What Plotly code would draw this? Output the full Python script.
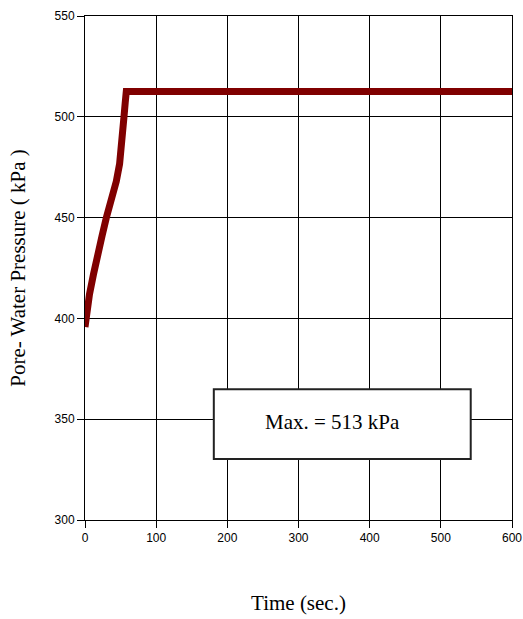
import plotly.graph_objects as go

time_s = [0, 3, 6.3, 12, 17, 24, 30, 39, 44, 48.6, 52, 54.7, 56.5, 58, 100, 200, 300, 400, 500, 600]
pwp_kpa = [395.7, 404, 412, 422, 432, 441, 450, 460, 468, 476.6, 486, 499.7, 507, 512.5, 512.5, 512.5, 512.5, 512.5, 512.5, 512.5]

x_ticks = [0, 100, 200, 300, 400, 500, 600]
y_ticks = [300, 350, 400, 450, 500, 550]
max_label = "Max. = 513 kPa"

fig = go.Figure()
fig.add_trace(go.Scatter(x=time_s, y=pwp_kpa, mode="lines",
                         line=dict(color="#800000", width=7), showlegend=False))

fig.add_shape(type="rect", x0=181, x1=542, y0=330.2, y1=364.9, xref="x", yref="y",
              line=dict(color="#222222", width=2), fillcolor="white", layer="above")
fig.add_annotation(x=348, y=348.5, xref="x", yref="y", text=max_label, showarrow=False,
                   font=dict(family="Liberation Serif", size=21, color="black"))

axis_common = dict(showline=True, linecolor="black", linewidth=1, mirror=True,
                   showgrid=True, gridcolor="black", gridwidth=1, zeroline=False,
                   ticks="outside", tickcolor="black", ticklen=7, tickwidth=1, automargin=False,
                   ticklabeloverflow="allow",
                   tickfont=dict(family="Liberation Sans Narrow, Liberation Sans", size=12, color="black"))

fig.update_xaxes(range=[0, 600], tickvals=x_ticks,
                 title=dict(text="Time (sec.)", font=dict(family="Liberation Serif", size=21, color="black"),
                            standoff=50),
                 **axis_common)
fig.update_yaxes(range=[300, 550], tickvals=y_ticks,
                 title=dict(text="Pore- Water Pressure ( kPa )",
                            font=dict(family="Liberation Serif", size=21, color="black"), standoff=23),
                 **axis_common)

fig.update_layout(width=523, height=619, margin=dict(l=85, r=11, t=16, b=99),
                  plot_bgcolor="white", paper_bgcolor="white")

fig.write_html("out.html", config={"displayModeBar": False},
               post_script="document.body.style.margin='0';document.body.style.overflow='hidden';")
